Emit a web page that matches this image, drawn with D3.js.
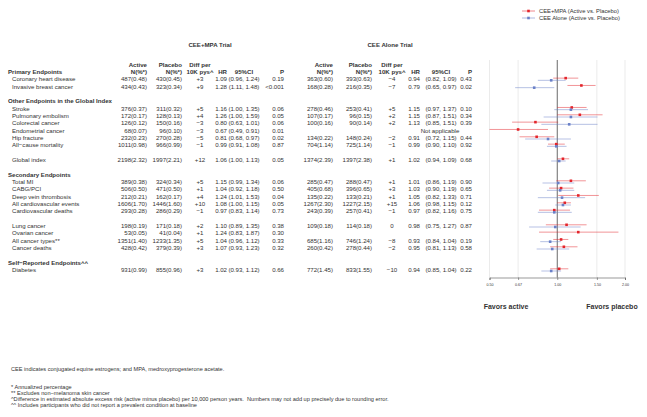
<!DOCTYPE html>
<html>
<head>
<meta charset="utf-8">
<script src="https://cdn.jsdelivr.net/npm/d3@7"></script>
<style>
  body { margin: 0; background: #fff; }
  text { font-family: "Liberation Sans", Arial, sans-serif; fill: #333; }
</style>
</head>
<body>
<div id="chart"></div>
<script>
/* rows of the table, "#" marks a section header, "" an empty spacer row */
const layout = [
  "#Primary Endpoints", "Coronary heart disease", "Invasive breast cancer", "",
  "#Other Endpoints in the Global Index", "Stroke", "Pulmonary embolism", "Colorectal cancer",
  "Endometrial cancer", "Hip fracture", "All\u2212cause mortality", "",
  "Global index", "",
  "#Secondary Endpoints", "Total MI", "CABG/PCI", "Deep vein thrombosis",
  "All cardiovascular events", "Cardiovascular deaths", "",
  "Lung cancer", "Ovarian cancer", "All cancer types**", "Cancer deaths", "",
  "#Self\u2212Reported Endpoints^^", "Diabetes"
];

const outcomes = layout.filter(d => d !== "" && d[0] !== "#");

/* CEE+MPA trial */
const cmpActive  = ["487(0.48)","434(0.43)","376(0.37)","172(0.17)","126(0.12)","68(0.07)","232(0.23)","1011(0.98)","2198(2.32)","389(0.38)","506(0.50)","212(0.21)","1606(1.70)","293(0.28)","198(0.19)","53(0.05)","1351(1.40)","428(0.42)","931(0.99)"];
const cmpPlacebo = ["430(0.45)","323(0.34)","311(0.32)","128(0.13)","150(0.16)","96(0.10)","270(0.28)","966(0.99)","1997(2.21)","324(0.34)","471(0.50)","162(0.17)","1446(1.60)","286(0.29)","171(0.18)","41(0.04)","1233(1.35)","379(0.39)","855(0.96)"];
const cmpDiff    = ["+3","+9","+5","+4","\u22123","\u22123","\u22125","\u22121","+12","+5","+1","+4","+10","\u22121","+2","+1","+5","+3","+3"];
const cmpHR      = [1.09,1.28,1.16,1.26,0.80,0.67,0.81,0.99,1.06,1.15,1.04,1.24,1.08,0.97,1.10,1.24,1.04,1.07,1.02];
const cmpLo      = [0.96,1.11,1.00,1.00,0.63,0.49,0.68,0.91,1.00,0.99,0.92,1.01,1.00,0.83,0.89,0.83,0.96,0.93,0.93];
const cmpHi      = [1.24,1.48,1.35,1.59,1.01,0.91,0.97,1.08,1.13,1.34,1.18,1.53,1.15,1.14,1.35,1.87,1.12,1.23,1.12];
const cmpP       = ["0.19","<0.001","0.06","0.05","0.06","0.01","0.02","0.87","0.05","0.06","0.50","0.04","0.05","0.73","0.38","0.30","0.33","0.32","0.66"];

/* CEE Alone trial (null = no result) */
const aloneActive  = ["363(0.60)","168(0.28)","278(0.46)","107(0.17)","100(0.16)",null,"134(0.22)","704(1.14)","1374(2.39)","285(0.47)","405(0.68)","135(0.22)","1267(2.30)","243(0.39)","109(0.18)",null,"685(1.16)","260(0.42)","772(1.45)"];
const alonePlacebo = ["393(0.63)","216(0.35)","253(0.41)","96(0.15)","90(0.14)",null,"148(0.24)","725(1.14)","1397(2.38)","288(0.47)","396(0.65)","133(0.21)","1227(2.15)","257(0.41)","114(0.18)",null,"746(1.24)","278(0.44)","833(1.55)"];
const aloneDiff    = ["\u22124","\u22127","+5","+2","+2",null,"\u22122","\u22121","+1","+1","+3","+1","+15","\u22121","0",null,"\u22128","\u22122","\u221210"];
const aloneHR      = [0.94,0.79,1.15,1.15,1.13,null,0.91,0.99,1.02,1.01,1.03,1.05,1.06,0.97,0.98,null,0.93,0.95,0.94];
const aloneLo      = [0.82,0.65,0.97,0.87,0.85,null,0.72,0.90,0.94,0.86,0.90,0.82,0.98,0.82,0.75,null,0.84,0.81,0.85];
const aloneHi      = [1.09,0.97,1.37,1.51,1.51,null,1.15,1.10,1.09,1.19,1.19,1.33,1.15,1.16,1.27,null,1.04,1.13,1.04];
const aloneP       = ["0.43","0.02","0.10","0.34","0.39",null,"0.44","0.92","0.68","0.90","0.65","0.71","0.12","0.75","0.87",null,"0.19","0.58","0.22"];
const aloneNote    = {"Endometrial cancer": "Not applicable"};

const axisTicks = [0.50, 0.67, 1.00, 1.50, 2.00];
const seriesNames = ["CEE+MPA (Active vs. Placebo)", "CEE Alone (Active vs. Placebo)"];
const seriesColors = ["#e3242b", "#6a80c8"];

const footnotes = [
  "* Annualized percentage",
  "** Excludes non\u2212melanoma skin cancer",
  "^Difference in estimated absolute excess risk (active minus placebo) per 10,000 person years.  Numbers may not add up precisely due to rounding error.",
  "^^ Includes participants who did not report a prevalent condition at baseline"
];

/******************************************************************************/

const width = 647, height = 417, fs = 6.1;

const svg = d3.select("#chart").append("svg")
  .attr("width", width).attr("height", height);

const y = d3.scalePoint().domain(d3.range(layout.length)).range([72, 270]);
const x = d3.scaleLog().domain([0.5, 2]).range([489.5, 625]).clamp(true);

function txt(g, s, px, py, anchor, bold, size) {
  return g.append("text")
    .attr("x", px).attr("y", py)
    .attr("dy", "0.35em")
    .attr("text-anchor", anchor || "start")
    .style("font-size", (size || fs) + "px")
    .style("font-weight", bold ? "bold" : "normal")
    .style("white-space", "pre")
    .text(s);
}

/* column positions: [x, anchor] */
const cmpCols   = {active: [147, "end"], placebo: [182, "end"], diff: [200, "middle"], hr: [227, "end"], ci: [244, "middle"], p: [284, "end"]};
const aloneCols = {active: [333, "end"], placebo: [372, "end"], diff: [392, "middle"], hr: [420, "end"], ci: [441, "middle"], p: [472, "end"]};

const tbl = svg.append("g");

/* trial titles */
txt(tbl, "CEE+MPA Trial", 210, 45, "middle", true);
txt(tbl, "CEE Alone Trial", 390, 45, "middle", true);

/* column headers */
[cmpCols, aloneCols].forEach(c => {
  txt(tbl, "Active", c.active[0], 64.5, "end", true);
  txt(tbl, "N(%*)", c.active[0], 71.5, "end", true);
  txt(tbl, "Placebo", c.placebo[0], 64.5, "end", true);
  txt(tbl, "N(%*)", c.placebo[0], 71.5, "end", true);
  txt(tbl, "Diff per", c.diff[0], 64.5, "middle", true);
  txt(tbl, "10K pys^", c.diff[0], 71.5, "middle", true);
  txt(tbl, "HR", c.hr[0], 71.5, "end", true);
  txt(tbl, "95%CI", c.ci[0], 71.5, "middle", true);
  txt(tbl, "P", c.p[0], 71.5, "end", true);
});

const fmt = d3.format(".2f");
const ciText = (lo, hi) => "(" + fmt(lo) + ", " + fmt(hi) + ")";

layout.forEach((lab, i) => {
  if (lab === "") return;
  const yy = y(i);
  if (lab[0] === "#") { txt(tbl, lab.slice(1), 8, yy, "start", true); return; }
  txt(tbl, lab, 12, yy, "start", false);
  const k = outcomes.indexOf(lab);
  const c1 = cmpCols;
  txt(tbl, cmpActive[k], c1.active[0], yy, c1.active[1]);
  txt(tbl, cmpPlacebo[k], c1.placebo[0], yy, c1.placebo[1]);
  txt(tbl, cmpDiff[k], c1.diff[0], yy, c1.diff[1]);
  txt(tbl, fmt(cmpHR[k]), c1.hr[0], yy, c1.hr[1]);
  txt(tbl, ciText(cmpLo[k], cmpHi[k]), c1.ci[0], yy, c1.ci[1]);
  txt(tbl, cmpP[k], c1.p[0], yy, c1.p[1]);
  const c2 = aloneCols;
  if (aloneNote[lab]) { txt(tbl, aloneNote[lab], 440, yy, "middle"); return; }
  if (aloneHR[k] == null) return;
  txt(tbl, aloneActive[k], c2.active[0], yy, c2.active[1]);
  txt(tbl, alonePlacebo[k], c2.placebo[0], yy, c2.placebo[1]);
  txt(tbl, aloneDiff[k], c2.diff[0], yy, c2.diff[1]);
  txt(tbl, fmt(aloneHR[k]), c2.hr[0], yy, c2.hr[1]);
  txt(tbl, ciText(aloneLo[k], aloneHi[k]), c2.ci[0], yy, c2.ci[1]);
  txt(tbl, aloneP[k], c2.p[0], yy, c2.p[1]);
});

/* forest plot */
const fp = svg.append("g");
const yTop = 60, yAxis = 277.5;

fp.selectAll("line.grid").data(axisTicks).enter().append("line")
  .attr("class", "grid")
  .attr("x1", d => x(d)).attr("x2", d => x(d))
  .attr("y1", yTop).attr("y2", yAxis)
  .attr("stroke", d => d === 1 ? "#444" : "#dedede")
  .attr("stroke-width", d => d === 1 ? 0.8 : 0.6);

const series = [
  {hr: cmpHR, lo: cmpLo, hi: cmpHi, off: -1.2},
  {hr: aloneHR, lo: aloneLo, hi: aloneHi, off: 1.0}
];

series.forEach((s, si) => {
  const pts = outcomes.map((o, k) => ({row: layout.indexOf(o), hr: s.hr[k], lo: s.lo[k], hi: s.hi[k]}))
    .filter(d => d.hr != null);
  const g = fp.append("g");
  g.selectAll("line").data(pts).enter().append("line")
    .attr("x1", d => x(d.lo)).attr("x2", d => x(d.hi))
    .attr("y1", d => y(d.row) + s.off).attr("y2", d => y(d.row) + s.off)
    .attr("stroke", seriesColors[si]).attr("stroke-opacity", 0.55)
    .attr("stroke-width", 0.9);
  g.selectAll("rect").data(pts).enter().append("rect")
    .attr("x", d => x(d.hr) - 1.3).attr("y", d => y(d.row) + s.off - 1.3)
    .attr("width", 2.6).attr("height", 2.6)
    .attr("fill", seriesColors[si]);
});

/* x axis */
const axisG = fp.append("g")
  .attr("transform", "translate(0," + yAxis + ")")
  .call(d3.axisBottom(x).tickValues(axisTicks).tickFormat(fmt).tickSize(2.5).tickPadding(3));
axisG.select(".domain").attr("stroke", "#555").attr("stroke-width", 0.6);
axisG.selectAll(".tick line").attr("stroke", "#555").attr("stroke-width", 0.6);
axisG.selectAll(".tick text").style("font-size", "3.6px").attr("fill", "#555")
  .style("font-family", "'Liberation Sans', Arial, sans-serif");

txt(fp, "Favors active", 506, 307, "middle", true, 7);
txt(fp, "Favors placebo", 612, 307, "middle", true, 7);

/* legend */
const leg = svg.append("g");
seriesNames.forEach((n, i) => {
  const ly = 11 + i * 7;
  leg.append("line").attr("x1", 522).attr("x2", 535).attr("y1", ly).attr("y2", ly)
    .attr("stroke", seriesColors[i]).attr("stroke-opacity", 0.6).attr("stroke-width", 0.9);
  leg.append("rect").attr("x", 527.2).attr("y", ly - 1.3).attr("width", 2.6).attr("height", 2.6)
    .attr("fill", seriesColors[i]);
  txt(leg, n, 539, ly, "start", false, 5.8);
});

/* footnotes */
const fn = svg.append("g");
txt(fn, "CEE indicates conjugated equine estrogens; and MPA, medroxyprogesterone acetate.", 11, 369.5, "start", false, 5.6);
footnotes.forEach((f, i) => txt(fn, f, 11, 387 + i * 5.9, "start", false, 5.6));
</script>
</body>
</html>
